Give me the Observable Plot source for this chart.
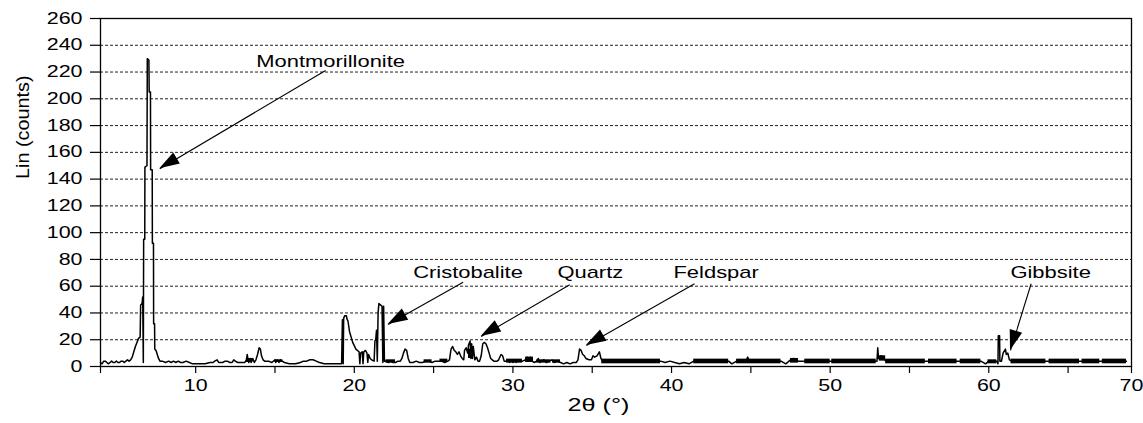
<!DOCTYPE html>
<html>
<head>
<meta charset="utf-8">
<script src="https://cdn.jsdelivr.net/npm/d3@7"></script>
<script src="https://cdn.jsdelivr.net/npm/@observablehq/plot@0.6"></script>
<style>
  html, body { margin: 0; padding: 0; background: #fff; }
  #chart { width: 1143px; height: 423px; }
</style>
</head>
<body>
<div id="chart"></div>
<script>
// ---- Data ----
const angles = [
  4.0,4.1,4.2,4.3,4.4,4.5,4.6,4.7,4.8,4.9,5.0,5.1,5.2,5.3,5.4,5.5,5.6,5.7,5.8,5.9,
  6.0,6.1,6.2,6.3,6.4,6.5,6.53,6.62,6.66,6.70,6.72,6.79,6.80,6.93,6.95,7.05,7.07,7.15,7.16,7.26,
  7.27,7.34,7.35,7.41,7.42,7.5,7.58,7.66,7.75,7.9,8.1,8.3,8.45,8.6,8.75,8.9,9.05,9.2,9.4,9.6,
  9.8,10.2,10.6,10.9,11.1,11.2,11.35,11.45,11.7,11.85,12.0,12.15,12.3,12.4,12.5,12.65,12.9,13.1,13.2,13.25,
  13.3,13.35,13.45,13.5,13.6,13.7,13.8,13.9,14.0,14.08,14.15,14.25,14.35,14.6,14.8,15.0,15.05,15.15,15.25,15.35,
  15.45,15.6,15.9,16.3,16.6,16.8,17.0,17.2,17.4,17.6,17.8,18.1,18.5,18.9,19.2,19.25,19.3,19.33,19.4,19.5,
  19.55,19.6,19.7,19.9,20.1,20.3,20.35,20.4,20.5,20.55,20.6,20.7,20.8,20.85,20.9,21.0,21.1,21.25,21.3,21.35,
  21.4,21.45,21.5,21.55,21.65,21.75,21.8,21.85,21.9,22.0,22.15,22.3,22.45,22.6,22.75,22.9,23.0,23.1,23.2,23.3,
  23.4,23.5,23.7,23.9,24.1,24.3,24.5,24.7,24.9,25.1,25.3,25.5,25.7,25.9,26.0,26.1,26.2,26.3,26.4,26.5,
  26.6,26.7,26.8,26.9,26.95,27.05,27.15,27.2,27.3,27.35,27.4,27.45,27.5,27.6,27.7,27.8,27.9,28.0,28.1,28.2,
  28.3,28.4,28.5,28.6,28.7,28.8,28.9,29.0,29.1,29.25,29.35,29.45,29.6,29.7,29.8,29.9,30.0,30.1,30.2,30.3,
  30.4,30.6,30.8,30.9,31.0,31.1,31.2,31.35,31.5,31.6,31.7,31.8,31.95,32.1,32.3,32.45,32.6,32.8,33.0,33.2,
  33.4,33.6,33.8,34.0,34.1,34.2,34.3,34.4,34.5,34.6,34.8,34.95,35.05,35.15,35.3,35.45,35.55,35.65,35.8,36.5,
  37.5,38.5,39.3,39.6,39.9,40.2,40.5,40.8,41.1,41.4,42.5,43.6,43.8,44.1,44.7,44.8,44.9,45.8,46.9,47.2,
  47.5,47.7,48.0,48.4,49.5,50.5,51.5,52.5,52.95,53.0,53.05,53.2,53.35,53.5,54.5,55.5,56.5,57.5,58.5,59.5,
  59.8,60.0,60.5,60.58,60.6,60.68,60.7,60.8,60.9,61.05,61.1,61.2,61.3,61.45,62.5,63.5,64.5,65.5,66.5,67.5,
  68.5,69.6
];
const counts = [
  3,2,4,4,3,2,3,4,3,3,4,3,3,4,4,3,4,5,4,5,
  7,11,15,18,21,22,46,47,52,3,95,95,149,150,230,229,205,205,147,147,
  92,92,32,32,13,12,9,6,4,4,3,4,3,4,3,4,3,3,4,3,
  2,2,2,3,3,4,5,3,3,4,4,3,3,5,4,3,3,3,5,9,
  5,3,6,3,6,3,5,9,14,13,8,5,4,4,3,5,3,5,3,5,
  4,3,2,2,3,4,4,5,5,4,3,2,2,2,2,35,2,36,38,38,
  35,34,26,18,13,11,2,10,11,2,11,12,10,3,9,6,5,4,19,20,
  27,4,40,47,46,45,3,45,4,4,3,4,3,3,4,4,6,10,13,12,
  6,3,3,4,3,3,4,4,3,4,4,4,3,4,5,13,15,12,11,9,
  11,8,6,5,12,14,10,16,19,6,17,6,15,5,7,4,4,8,17,18,
  17,14,10,6,5,4,4,4,5,9,8,4,4,5,3,5,3,5,3,5,
  4,4,5,7,5,7,4,3,4,6,3,4,5,3,4,5,3,4,3,2,
  3,2,3,3,5,13,12,9,8,6,5,5,8,7,8,11,6,4,4,4,
  4,4,4,3,4,3,2,3,2,4,4,4,2,4,4,7,4,4,4,2,
  5,6,4,4,4,4,4,4,4,14,6,8,7,4,4,4,4,4,4,4,
  2,4,4,2,23,23,4,4,10,13,9,10,5,4,4,4,4,4,4,4,
  4,4
];

// dense noise bands along the baseline
const bandStart = [13.2,15.0,22.0,24.4,25.4,27.2,29.6,30.8,31.5,32.5,35.6,41.4,44.1,47.5,48.4,50.1,53.1,53.5,56.2,58.2,59.95,61.4,63.8,66.1,67.7];
const bandEnd   = [13.6,15.5,22.6,24.9,25.9,27.5,30.6,31.3,32.4,33.0,39.3,43.6,46.9,48.0,50.0,52.9,53.5,56.0,58.0,59.5,60.5,63.6,65.9,67.5,69.6];
const bandLow   = [3,3,2.5,2.5,3,6,2.5,3,2.5,2.5,2,2,2,2.5,2,2,4,2,2,2,2,2,2,2,2];
const bandHigh  = [6,5,5,5,5.5,13,5.5,7,5,5,5.5,5.5,5.5,6,5.5,5.5,8,5.5,5.5,5.5,5,5.5,5.5,5.5,5.5];

// annotations
const annLabels  = ["Montmorillonite","Cristobalite","Quartz","Feldspar","Gibbsite"];
const annTextX   = [18.51, 27.17, 34.88, 42.81, 63.9];
const annTextY   = [227.6, 70.5, 70.5, 70.5, 70.5];
const arrowFromX = [18.19, 26.86, 33.58, 41.45, 62.67];
const arrowFromY = [221.1, 63.0, 61.1, 61.8, 61.8];
const arrowToX   = [7.74, 22.13, 28.0, 34.63, 61.37];
const arrowToY   = [147.8, 31.4, 22.4, 15.7, 12.0];

// axes
const xTicks = [4,10,15,20,25,30,35,40,45,50,55,60,65,70];
const yTicks = [0,20,40,60,80,100,120,140,160,180,200,220,240,260];
const gridTicks = [20,40,60,80,100,120,140,160,180,200,220,240];
const xLabel = "2θ (°)";
const yLabel = "Lin (counts)";

const spectrum = angles.map((a, i) => ({a, c: counts[i]}));
const bands = bandStart.map((s, i) => ({s, e: bandEnd[i], lo: bandLow[i], hi: bandHigh[i]}));
const anns = annLabels.map((t, i) => ({t, x: annTextX[i], y: annTextY[i], x1: arrowFromX[i], y1: arrowFromY[i], x2: arrowToX[i], y2: arrowToY[i]}));

function arrowHeads(index, scales) {
  const g = d3.create("svg:g").attr("aria-label", "arrow heads");
  for (const d of anns) {
    const x1 = scales.x(d.x1), y1 = scales.y(d.y1);
    const x2 = scales.x(d.x2), y2 = scales.y(d.y2);
    const ang = Math.atan2(y2 - y1, x2 - x1);
    const L = 20, W = 6.5;
    const bx = x2 - L * Math.cos(ang), by = y2 - L * Math.sin(ang);
    const px = -Math.sin(ang) * W, py = Math.cos(ang) * W;
    g.append("path")
      .attr("d", `M${x2},${y2}L${bx + px},${by + py}L${bx - px},${by - py}Z`)
      .attr("fill", "black");
  }
  return g.node();
}

const chart = Plot.plot({
  width: 1143,
  height: 423,
  marginLeft: 100,
  marginRight: 12,
  marginTop: 18,
  marginBottom: 57,
  style: {fontFamily: "'Liberation Sans', Arial, sans-serif", fontSize: "16px", color: "black", background: "white"},
  x: {type: "linear", domain: [4, 65, 70], range: [100, 1067.6, 1131]},
  y: {type: "linear", domain: [0, 260]},
  marks: [
    Plot.gridY(gridTicks, {stroke: "#222", strokeOpacity: 1, strokeDasharray: "3,2", strokeWidth: 1}),
    Plot.rect(bands, {x1: "s", x2: "e", y1: "lo", y2: "hi", fill: "black"}),
    Plot.line(spectrum, {x: "a", y: "c", stroke: "black", strokeWidth: 1.5, curve: "linear"}),
    Plot.link(anns, {x1: "x1", y1: "y1", x2: "x2", y2: "y2", stroke: "black", strokeWidth: 1.1}),
    arrowHeads,
    Plot.text(anns, {x: "x", y: "y", text: "t", fontSize: 17, fill: "black"}),
    Plot.frame({stroke: "black", strokeWidth: 1.3}),
    Plot.axisY(yTicks, {tickSize: 10, tickPadding: 8, fontSize: 16, label: null, stroke: "black", strokeWidth: 1.2}),
    Plot.axisX(xTicks, {tickSize: 7, tickPadding: 6, fontSize: 16, label: null, stroke: "black", strokeWidth: 1.2,
      tickFormat: d => (d % 10 === 0 ? String(d) : "")}),
    Plot.text([yLabel], {frameAnchor: "left", text: d => d, rotate: -90, dx: -77.5, dy: -13.5, fontSize: 18, fill: "black"}),
    Plot.text([xLabel], {frameAnchor: "bottom", text: d => d, dx: -17.5, dy: 44, fontSize: 18, fill: "black"})
  ]
});

document.getElementById("chart").appendChild(chart);

// the reference's lettering is horizontally wide; stretch glyphs to match
const svg = document.querySelector("#chart svg");
svg.querySelectorAll("text").forEach(t => {
  const s = t.textContent;
  if (!s) return;
  const w = t.getComputedTextLength();
  let k = 1.29;
  if (/^\d+$/.test(s)) k = 1.34;
  else if (s === xLabel) k = 1.4;
  else if (s === yLabel) k = 1.1;
  t.setAttribute("textLength", (w * k).toFixed(1));
  t.setAttribute("lengthAdjust", "spacingAndGlyphs");
});
</script>
</body>
</html>
